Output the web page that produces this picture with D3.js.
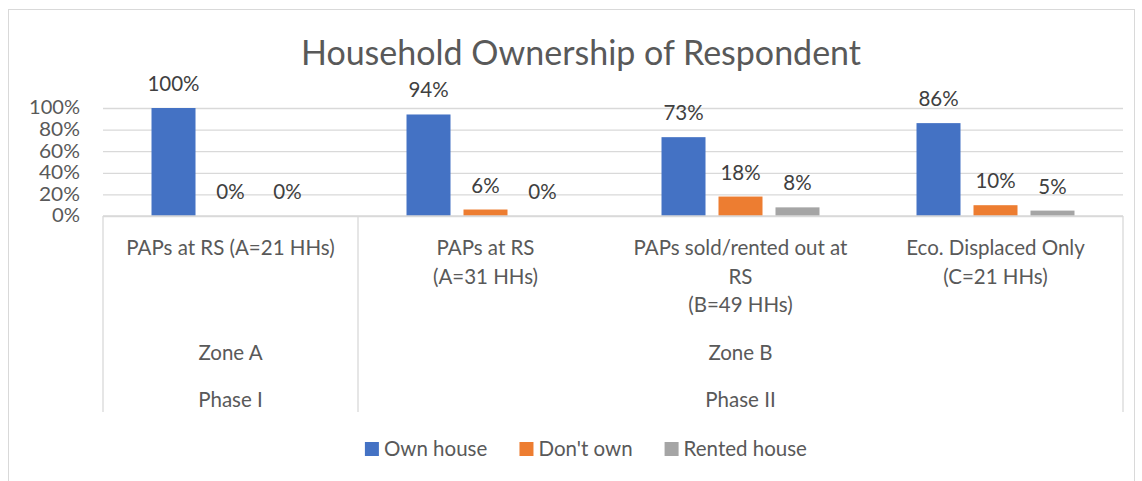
<!DOCTYPE html>
<html>
<head>
<meta charset="utf-8">
<script src="https://cdn.jsdelivr.net/npm/d3@7"></script>
<style>
  body { margin: 0; background: #fff; }
  svg { display: block; font-family: Lato, "Open Sans", sans-serif; }
</style>
</head>
<body>
<div id="chart"></div>
<script>
/* Household ownership grouped bar chart */

const width = 1142, height = 481,
    margin = ({ top: 108, right: 19, bottom: 265, left: 103 });

// data
const categories = ["PAPs at RS (A=21 HHs)", "PAPs at RS (A=31 HHs)", "PAPs sold/rented out at RS (B=49 HHs)", "Eco. Displaced Only (C=21 HHs)"];
const categoryLines = [["PAPs at RS (A=21 HHs)"], ["PAPs at RS", "(A=31 HHs)"], ["PAPs sold/rented out at", "RS", "(B=49 HHs)"], ["Eco. Displaced Only", "(C=21 HHs)"]];
const zones = ["Zone A", "Zone B"];
const zoneSpan = [1, 3];
const phases = ["Phase I", "Phase II"];
const phaseSpan = [1, 3];
const series = ["Own house", "Don't own", "Rented house"];
const ownHouse = [1.00, 0.94, 0.73, 0.86];
const dontOwn = [0.00, 0.06, 0.18, 0.10];
const rentedHouse = [0.00, 0.00, 0.08, 0.05];
const yTicks = [0, 0.2, 0.4, 0.6, 0.8, 1.0];
const colors = ["#4472C4", "#ED7D31", "#A5A5A5"];

const values = [ownHouse, dontOwn, rentedHouse];
const data = categories.map((c, i) => ({ cat: c, vals: series.map((s, j) => ({ key: s, value: values[j][i] })) }));

const fs = 20.5;

const svg = d3.select("#chart")
    .append("svg")
    .attr("width", width)
    .attr("height", height);

// chart border
svg.append("rect")
    .attr("x", 8.5).attr("y", 9.5)
    .attr("width", 1126).attr("height", 490)
    .attr("fill", "#fff")
    .attr("stroke", "#d9d9d9");

const plotBottom = height - margin.bottom;

let x0 = d3.scaleBand()
    .domain(categories)
    .range([margin.left, width - margin.right]);

let x1 = d3.scaleBand()
    .domain(series)
    .range([0, x0.bandwidth()])
    .paddingInner(0.228)
    .paddingOuter(0.851);

let y = d3.scaleLinear()
    .domain([0, 1])
    .range([plotBottom, margin.top]);

/* title */
svg.append("text")
    .attr("x", 581)
    .attr("y", 65)
    .attr("text-anchor", "middle")
    .attr("fill", "#595959")
    .attr("font-size", 34)
    .text("Household Ownership of Respondent");

/* y axis + gridlines */
const yAxis = svg.append("g")
    .attr("transform", `translate(${margin.left},0)`)
    .call(d3.axisLeft(y)
        .tickValues(yTicks)
        .tickFormat(d3.format(".0%"))
        .tickSize(-(width - margin.left - margin.right))
        .tickPadding(23));
yAxis.select(".domain").remove();
yAxis.selectAll("line").attr("stroke", "#d9d9d9").attr("stroke-width", 1.3);
yAxis.selectAll("text")
    .attr("fill", "#595959")
    .attr("font-size", 18.5)
    .attr("font-family", "Lato, sans-serif")
    .attr("textLength", d => d === 1 ? 51 : d === 0 ? 28 : 41)
    .attr("lengthAdjust", "spacingAndGlyphs");

/* bars */
const groups = svg.append("g")
    .selectAll("g")
    .data(data)
    .join("g")
    .attr("transform", d => `translate(${x0(d.cat)},0)`);

groups.selectAll("rect")
    .data(d => d.vals)
    .join("rect")
    .attr("x", d => x1(d.key))
    .attr("y", d => y(d.value))
    .attr("width", x1.bandwidth())
    .attr("height", d => y(0) - y(d.value))
    .attr("fill", (d, i) => colors[i]);

groups.selectAll("text")
    .data(d => d.vals)
    .join("text")
    .attr("x", d => x1(d.key) + x1.bandwidth() / 2)
    .attr("y", d => y(d.value) - 17)
    .attr("text-anchor", "middle")
    .attr("fill", "#404040")
    .attr("font-size", fs)
    .text(d => d3.format(".0%")(d.value));

/* category axis box */
const boxBottom = 412;
const axisG = svg.append("g").attr("stroke", "#d9d9d9").attr("stroke-width", 1.3);
axisG.append("line")
    .attr("x1", margin.left).attr("x2", width - margin.right)
    .attr("y1", y(0)).attr("y2", y(0));

// vertical separators at phase boundaries
let acc = 0;
const bounds = [0];
phaseSpan.forEach(s => { acc += s; bounds.push(acc); });
bounds.forEach(b => {
    const xp = b < categories.length ? x0(categories[b]) : x0.range()[1];
    axisG.append("line")
        .attr("x1", xp).attr("x2", xp)
        .attr("y1", y(0)).attr("y2", boxBottom);
});

// category labels
svg.append("g")
    .selectAll("text")
    .data(categories)
    .join("text")
    .attr("text-anchor", "middle")
    .attr("fill", "#595959")
    .attr("font-size", fs)
    .attr("x", d => x0(d) + x0.bandwidth() / 2)
    .attr("y", 255)
    .each(function(d, i) {
        d3.select(this).selectAll("tspan")
            .data(categoryLines[i])
            .join("tspan")
            .attr("x", x0(d) + x0.bandwidth() / 2)
            .attr("dy", (t, k) => k === 0 ? 0 : 28.5)
            .text(t => t);
    });

// spanning labels (zone / phase)
function spanLabels(labels, spans, ypos) {
    let start = 0;
    labels.forEach((lab, i) => {
        const a = x0(categories[start]);
        const b = x0(categories[start + spans[i] - 1]) + x0.bandwidth();
        svg.append("text")
            .attr("x", (a + b) / 2)
            .attr("y", ypos)
            .attr("text-anchor", "middle")
            .attr("fill", "#595959")
            .attr("font-size", fs)
            .text(lab);
        start += spans[i];
    });
}
spanLabels(zones, zoneSpan, 360);
spanLabels(phases, phaseSpan, 407);

/* legend */
const legend = svg.append("g");
const items = legend.selectAll("g")
    .data(series)
    .join("g");
items.append("rect")
    .attr("width", 14).attr("height", 14)
    .attr("y", -7)
    .attr("fill", (d, i) => colors[i]);
items.append("text")
    .attr("x", 19)
    .attr("dy", "0.35em")
    .attr("fill", "#595959")
    .attr("font-size", fs)
    .text(d => d);

let lx = 0;
items.each(function() {
    d3.select(this).attr("transform", `translate(${lx},449)`);
    lx += this.getBBox().width + 32;
});
const legendWidth = lx - 32;
legend.attr("transform", `translate(${586 - legendWidth / 2},0)`);
</script>
</body>
</html>
